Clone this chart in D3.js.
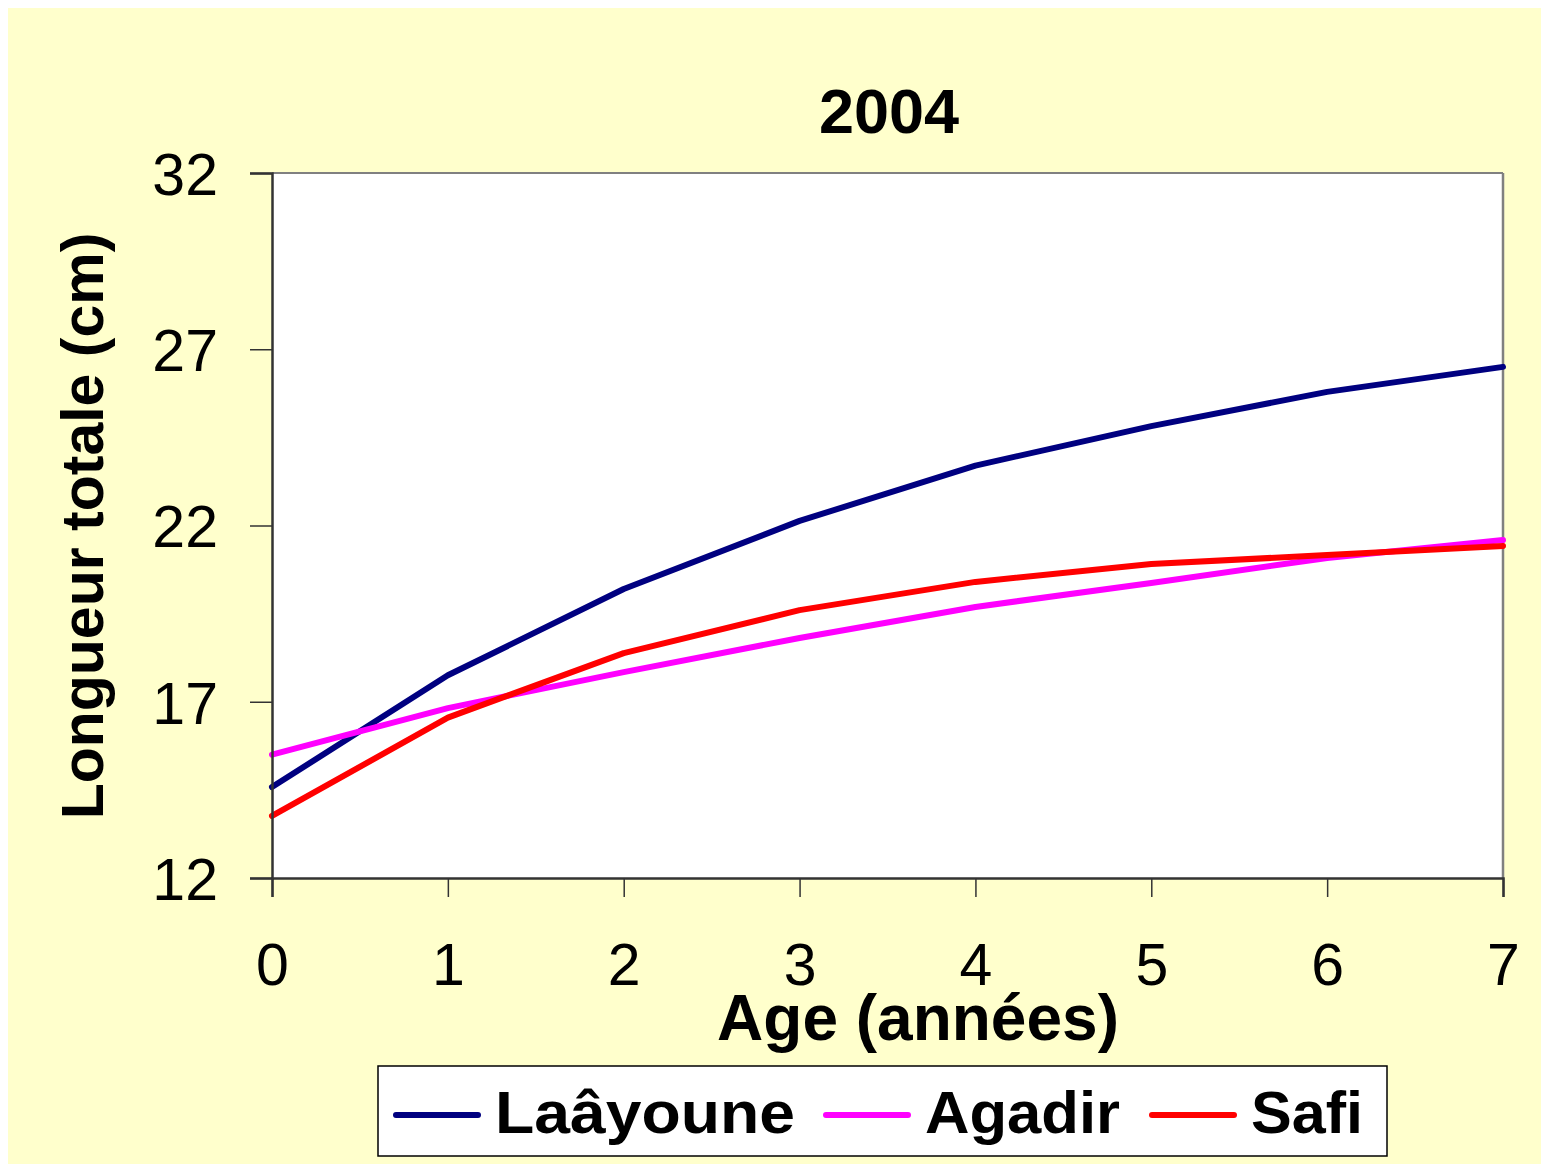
<!DOCTYPE html>
<html><head><meta charset="utf-8">
<script src="https://cdn.jsdelivr.net/npm/d3@7"></script>
<style>body{margin:0;background:#fff;} text{font-family:"Liberation Sans",Arial,sans-serif;}</style>
</head><body>
<script>
const ages = [0,1,2,3,4,5,6,7];
const laayoune = [14.58,17.75,20.2,22.13,23.7,24.82,25.79,26.5];
const agadir = [15.5,16.82,17.84,18.81,19.69,20.37,21.08,21.59];
const safi = [13.76,16.55,18.38,19.6,20.4,20.91,21.16,21.42];
const yTicks = [12,17,22,27,32];
const seriesNames = ["Laâyoune","Agadir","Safi"];
const seriesColors = ["#000080","#FF00FF","#FF0000"];
const series = [laayoune, agadir, safi];

const W=1541,H=1164;
const svg=d3.select("body").append("svg").attr("width",W).attr("height",H);
svg.append("rect").attr("x",8).attr("y",8).attr("width",W-8).attr("height",H-8).attr("fill","#FFFFCC");

const L=272,R=1503,T=173,B=878;
const x=d3.scaleLinear().domain([0,7]).range([L,R]);
const y=d3.scaleLinear().domain([12,32]).range([B,T]);

svg.append("rect").attr("x",L).attr("y",T).attr("width",R-L).attr("height",B-T).attr("fill","#fff");
svg.append("line").attr("x1",L).attr("x2",R).attr("y1",T).attr("y2",T).attr("stroke","#808080").attr("stroke-width",2);
svg.append("line").attr("x1",R).attr("x2",R).attr("y1",T).attr("y2",B).attr("stroke","#808080").attr("stroke-width",2.5);

const line=d3.line().x((d,i)=>x(ages[i])).y(d=>y(d));
series.forEach((s,k)=>{
  svg.append("path").datum(s).attr("d",line).attr("fill","none")
    .attr("stroke",seriesColors[k]).attr("stroke-width",6).attr("stroke-linejoin","round").attr("stroke-linecap","round");
});

const yAxis=svg.append("g").attr("transform",`translate(${L},0)`)
  .call(d3.axisLeft(y).tickValues(yTicks).tickSize(22).tickPadding(32).tickFormat(d3.format("d")));
const xAxis=svg.append("g").attr("transform",`translate(0,${B})`)
  .call(d3.axisBottom(x).tickValues(ages).tickSize(19).tickPadding(48).tickFormat(d3.format("d")));
[yAxis,xAxis].forEach(a=>{
  a.select(".domain").attr("stroke","#333").attr("stroke-width",2.5);
  a.selectAll(".tick line").attr("stroke","#333").attr("stroke-width",1.5);
  a.selectAll("text").attr("fill","#000").style("font-size","59px").style("font-family","Liberation Sans, Arial, sans-serif");
});
yAxis.selectAll("text").attr("dy","0.36em");
xAxis.selectAll("text").attr("dy","0").attr("y",107);

svg.append("text").attr("x",889).attr("y",133).attr("text-anchor","middle")
  .style("font-size","63px").style("font-weight","bold").text("2004");
svg.append("text").attr("x",918).attr("y",1040).attr("text-anchor","middle")
  .style("font-size","64px").style("font-weight","bold").text("Age (années)");
svg.append("text").attr("transform","translate(103,526) rotate(-90)").attr("text-anchor","middle")
  .style("font-size","59px").style("font-weight","bold").text("Longueur totale (cm)");

// legend
svg.append("rect").attr("x",378).attr("y",1066).attr("width",1009).attr("height",90)
  .attr("fill","#fff").attr("stroke","#000").attr("stroke-width",1.5);
const legX=[396,826,1152];
const legW=[300,195,112];
seriesNames.forEach((n,k)=>{
  svg.append("line").attr("x1",legX[k]).attr("x2",legX[k]+82).attr("y1",1115).attr("y2",1115)
    .attr("stroke",seriesColors[k]).attr("stroke-width",6).attr("stroke-linecap","round");
  svg.append("text").attr("x",legX[k]+99).attr("y",1133)
    .attr("textLength",legW[k]).attr("lengthAdjust","spacingAndGlyphs")
    .style("font-size","60px").style("font-weight","bold").text(n);
});
</script>
</body></html>
